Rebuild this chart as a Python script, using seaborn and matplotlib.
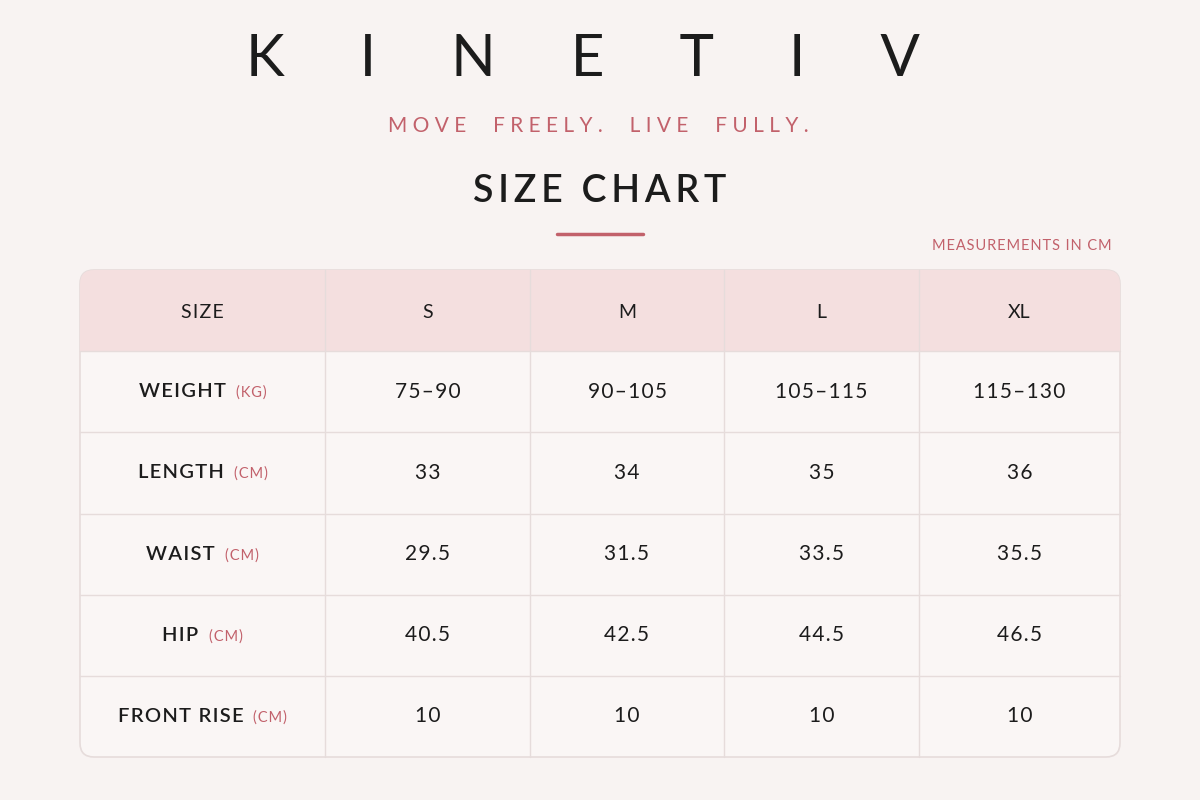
import matplotlib
matplotlib.use("Agg")
import matplotlib.pyplot as plt
import seaborn as sns
from matplotlib.patches import FancyBboxPatch, Rectangle

brand = "KINETIV"
tagline = "MOVE FREELY. LIVE FULLY."
title = "SIZE CHART"
note = "MEASUREMENTS IN CM"
sizes = ["S", "M", "L", "XL"]
row_names = ["WEIGHT", "LENGTH", "WAIST", "HIP", "FRONT RISE"]
row_units = ["(KG)", "(CM)", "(CM)", "(CM)", "(CM)"]
weight = ["75–90", "90–105", "105–115", "115–130"]
length = ["33", "34", "35", "36"]
waist = ["29.5", "31.5", "33.5", "35.5"]
hip = ["40.5", "42.5", "44.5", "46.5"]
front_rise = ["10", "10", "10", "10"]
values = [weight, length, waist, hip, front_rise]

sns.set_theme(style="white")
plt.rcParams['font.family'] = ['Lato', 'DejaVu Sans']

def spaced(s, sep="\u2009"):
    return sep.join(list(s))

BG = "#f8f3f2"; HEAD = "#f4dfdf"; BODY = "#faf6f5"; ACC = "#c2616b"; INK = "#1c1c1c"; LINE = "#e6dcdb"
fig = plt.figure(figsize=(12, 8), dpi=100, facecolor=BG)
ax = fig.add_axes([0, 0, 1, 1])
ax.set_xlim(0, 1200); ax.set_ylim(800, 0); ax.axis("off")
ax.set_facecolor(BG)

ax.text(583, 60, "     ".join(brand), ha="center", va="center", fontsize=42, color=INK)
ax.text(598, 126, "  ".join(tagline.split(" ")).replace("", " ").strip(), ha="center", va="center", fontsize=15, color=ACC)
ax.text(600, 192, spaced("SIZE") + "  " + spaced("CHART"), ha="center", va="center", fontsize=27, color=INK, fontweight="semibold")
ax.plot([557, 643], [234, 234], color=ACC, lw=2.5)
ax.text(1112, 246, spaced(note, "\u200a"), ha="right", va="center", fontsize=10.5, color=ACC)

x0, x1, y0, y1 = 80, 1120, 270, 757
cols = [80, 325, 530, 724, 919, 1120]
rh = (y1 - y0) / 6
ax.add_patch(FancyBboxPatch((x0, y0), x1 - x0, y1 - y0, boxstyle="round,pad=0,rounding_size=14",
                            fc=BODY, ec=LINE, lw=1.2, zorder=1))
hp = FancyBboxPatch((x0, y0), x1 - x0, y1 - y0, boxstyle="round,pad=0,rounding_size=14", fc=HEAD, ec="none", zorder=2)
ax.add_patch(hp)
hp.set_clip_path(Rectangle((x0, y0), x1 - x0, rh, transform=ax.transData))
for i in range(1, 6):
    ax.plot([x0, x1], [y0 + i * rh] * 2, color=LINE, lw=1, zorder=3)
for c in cols[1:-1]:
    ax.plot([c, c], [y0, y1], color=LINE, lw=1, zorder=3)

centers = [(cols[i] + cols[i + 1]) / 2 for i in range(5)]
ax.text(centers[0], y0 + rh / 2 + 2, spaced("SIZE", "\u200a"), ha="center", va="center", fontsize=14, color=INK, zorder=4)
for j, s in enumerate(sizes):
    ax.text(centers[j + 1], y0 + rh / 2 + 2, s, ha="center", va="center", fontsize=14, color=INK, zorder=4)
fig.canvas.draw()
inv = ax.transData.inverted()
for i, (n, u) in enumerate(zip(row_names, row_units)):
    yc = y0 + (i + 1.5) * rh
    t1 = ax.text(0, yc, spaced(n, "\u200a"), ha="left", va="center", fontsize=14.5,
                 color=INK, fontweight="semibold", zorder=4)
    t2 = ax.text(0, yc + 1, spaced(u, "\u200a"), ha="left", va="center", fontsize=10.5, color=ACC, zorder=4)
    fig.canvas.draw()
    w1 = t1.get_window_extent().transformed(inv).width
    w2 = t2.get_window_extent().transformed(inv).width
    gap = 10
    start = centers[0] - (w1 + gap + w2) / 2
    t1.set_x(start)
    t2.set_x(start + w1 + gap)
    for j, v in enumerate(values[i]):
        ax.text(centers[j + 1], yc, spaced(v, "\u200a"), ha="center", va="center", fontsize=15, color=INK, zorder=4)

fig.savefig("out.png", dpi=100, facecolor=BG)
